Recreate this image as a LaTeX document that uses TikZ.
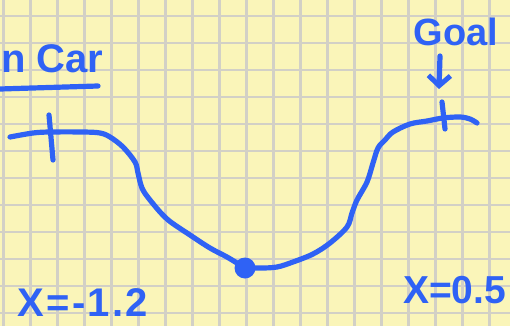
\documentclass[tikz,border=0pt]{standalone}
\usepackage{fontspec}
\setmainfont{Liberation Sans}
\usepackage{tikz}
\usetikzlibrary{arrows.meta,positioning}
\definecolor{paper}{HTML}{FAF5B9}
\definecolor{grid}{HTML}{D2D0C6}
\definecolor{pen}{HTML}{2F62F5}
\tikzset{
  gridline/.style={draw=grid,line width=2.6pt},
  hand/.style={draw=pen,line width=5.2pt,line cap=round,line join=round},
  penarrow/.style={hand,-{Straight Barb[length=10pt,width=22pt,line width=5pt]}},
  scrawl/.style={text=pen,font=\bfseries\fontsize{39}{39}\selectfont,inner sep=0pt,anchor=base west},
  ball/.style={circle,fill=pen,minimum size=21pt,inner sep=0pt},
}

\begin{document}
\begin{tikzpicture}[x=1pt,y=-1pt]
    \fill[paper] (0,0) rectangle (510,326);
    \useasboundingbox (0,0) rectangle (510,326);
    % grid
    \foreach \i in {0,...,18} {
      \draw[gridline] (3.5+27*\i,0) -- ++(0,326);
    }
    \foreach \j in {0,...,11} {
      \draw[gridline] (0,16+27*\j) -- ++(510,0);
    }
    % title
    \node[scrawl,font=\bfseries\fontsize{40}{40}\selectfont] (title) at (1,73) {n Car};
    \draw[hand] (0,89) -- (98,86);
    % valley
    \draw[hand] plot[smooth,tension=0.55] coordinates {
      (10,137) (33,133) (50,132) (83,132) (100,133) (110,137) (123,147)
      (135,162) (138,173) (142,188) (150,200) (167,219) (190,235)
      (210,248) (227,257) (245,267) (260,268) (277,267) (293,262)
      (313,254) (330,243) (347,227) (352,213) (357,200) (367,182)
      (373,163) (378,148) (385,140) (393,132) (410,124) (427,121)
      (443,118) (460,117) (470,119) (477,123)};
    \node[ball] (car) at (245,268) {};
    % bounds
    \draw[hand] (49,115) -- (53,160);
    \draw[hand] (442,102) -- (445,129);
    % goal
    \node[scrawl,anchor=base,font=\bfseries\fontsize{38}{38}\selectfont] (goal) at (456,46) {Goal};
    \coordinate (goalstart) at (440,56);
    \coordinate (goaltip) at (439,89);
    \draw[penarrow] (goalstart) -- (goaltip);
    % positions
    \node[scrawl,font=\bfseries\fontsize{40}{40}\selectfont\addfontfeature{LetterSpace=6}] (xleft) at (17,316) {X=-1.2};
    \node[scrawl] (xright) at (403,303) {X=0.5};
  \end{tikzpicture}
\end{document}
